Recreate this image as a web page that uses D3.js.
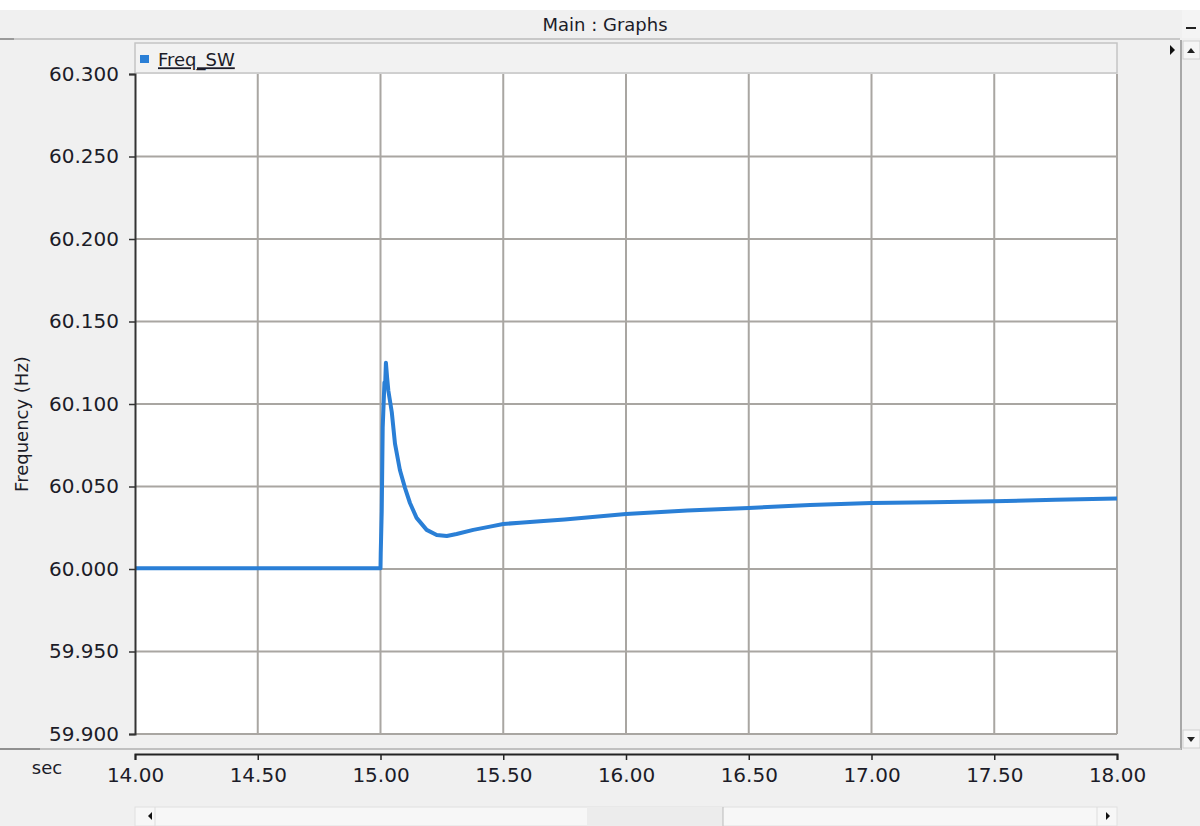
<!DOCTYPE html>
<html>
<head>
<meta charset="utf-8">
<script src="https://cdn.jsdelivr.net/npm/d3@7"></script>
<style>
  html, body { margin: 0; padding: 0; background: #ffffff; }
  svg { display: block; font-family: "DejaVu Sans", sans-serif; }
</style>
</head>
<body>
<div id="chart"></div>
<script>
// values
const seriesName = 'Freq_SW';
const timeSec = [14.00, 15.000, 15.001, 15.005, 15.009, 15.016, 15.019, 15.022, 15.027, 15.032,
    15.046, 15.059, 15.079, 15.100, 15.120, 15.147, 15.188, 15.229, 15.270, 15.310,
    15.378, 15.446, 15.500, 15.568, 15.650, 15.750, 16.00, 16.25, 16.50, 16.75,
    17.00, 17.25, 17.50, 17.75, 18.00];
const freqHz = [60.0005, 60.0005, 60.010, 60.035, 60.086, 60.113, 60.112, 60.125, 60.116, 60.108,
    60.095, 60.076, 60.060, 60.049, 60.040, 60.031, 60.0237, 60.0206, 60.020, 60.0212,
    60.0237, 60.0257, 60.0273, 60.028, 60.029, 60.030, 60.0333, 60.0355, 60.037, 60.0388,
    60.040, 60.0405, 60.041, 60.042, 60.0427];
const xTicks = [14.0, 14.5, 15.0, 15.5, 16.0, 16.5, 17.0, 17.5, 18.0];
const yTicks = [59.90, 59.95, 60.00, 60.05, 60.10, 60.15, 60.20, 60.25, 60.30];

const W = 1200, H = 826;
const plot = { left: 135, right: 1117, top: 74, bottom: 734 };
const panelBg = '#f0f0f0';
const gridColor = '#a9a6a2';
const lineColor = '#2a7fd6';
const textColor = '#1c1c28';

const svg = d3.select('#chart').append('svg')
    .attr('width', W)
    .attr('height', H)
    .attr('viewBox', `0 0 ${W} ${H}`);

// window chrome
svg.append('rect').attr('x', 0).attr('y', 10).attr('width', W).attr('height', H - 10).attr('fill', panelBg);
svg.append('line').attr('x1', 0).attr('x2', 1180).attr('y1', 39).attr('y2', 39)
    .attr('stroke', '#c8c8c8').attr('stroke-width', 2);
svg.append('line').attr('x1', 0).attr('x2', 14).attr('y1', 39).attr('y2', 39)
    .attr('stroke', '#9a9a9a').attr('stroke-width', 2);
svg.append('text')
    .attr('x', 605).attr('y', 25).attr('dy', '0.35em')
    .attr('text-anchor', 'middle')
    .attr('font-size', 18).attr('fill', textColor)
    .text('Main : Graphs');
// minimize box
svg.append('rect').attr('x', 1182).attr('y', 10).attr('width', 18).attr('height', 28).attr('fill', '#f4f4f4');
svg.append('line').attr('x1', 1186).attr('x2', 1196).attr('y1', 28).attr('y2', 28)
    .attr('stroke', '#222').attr('stroke-width', 2);

// right side scrollbar
svg.append('line').attr('x1', 1181).attr('x2', 1181).attr('y1', 40).attr('y2', 750)
    .attr('stroke', '#a8a8a8').attr('stroke-width', 2);
svg.append('rect').attr('x', 1183).attr('y', 41).attr('width', 17).attr('height', 18)
    .attr('fill', '#f6f6f6').attr('stroke', '#d0d0d0');
svg.append('path').attr('d', 'M1187,53 L1195,53 L1191,48 Z').attr('fill', '#222');
svg.append('rect').attr('x', 1183).attr('y', 730).attr('width', 17).attr('height', 18)
    .attr('fill', '#f6f6f6').attr('stroke', '#d0d0d0');
svg.append('path').attr('d', 'M1187,737 L1195,737 L1191,742 Z').attr('fill', '#222');
svg.append('path').attr('d', 'M1170,45 L1175,50 L1170,55 Z').attr('fill', '#111');

// legend strip
svg.append('rect')
    .attr('x', plot.left).attr('y', 43)
    .attr('width', plot.right - plot.left).attr('height', 30)
    .attr('fill', '#f2f2f2').attr('stroke', '#c4c4c4').attr('stroke-width', 1.5);
svg.append('rect').attr('x', 140).attr('y', 55).attr('width', 9).attr('height', 8).attr('fill', lineColor);
svg.append('text')
    .attr('x', 158).attr('y', 60).attr('dy', '0.35em')
    .attr('font-size', 18).attr('fill', textColor)
    .attr('text-decoration', 'underline')
    .text(seriesName);

// scales
const x = d3.scaleLinear().domain([14, 18]).range([plot.left, plot.right]);
const y = d3.scaleLinear().domain([59.9, 60.3]).range([plot.bottom, plot.top]);

// plot area
svg.append('rect')
    .attr('x', plot.left).attr('y', plot.top)
    .attr('width', plot.right - plot.left).attr('height', plot.bottom - plot.top)
    .attr('fill', '#ffffff');

const grid = svg.append('g').attr('stroke', gridColor).attr('stroke-width', 2);
grid.selectAll('.vgrid')
    .data(xTicks.slice(1))
    .enter()
    .append('line')
    .attr('x1', d => x(d)).attr('x2', d => x(d))
    .attr('y1', plot.top).attr('y2', plot.bottom);
grid.selectAll('.hgrid')
    .data(yTicks.slice(0, -1))
    .enter()
    .append('line')
    .attr('x1', plot.left).attr('x2', plot.right)
    .attr('y1', d => y(d)).attr('y2', d => y(d));

// series
const pts = timeSec.map((t, i) => ({ t: t, f: freqHz[i] }));
const line = d3.line()
    .x(d => x(d.t))
    .y(d => y(d.f));
svg.append('path')
    .datum(pts)
    .attr('d', line)
    .attr('fill', 'none')
    .attr('stroke', lineColor)
    .attr('stroke-width', 4)
    .attr('stroke-linejoin', 'round');

// y axis
const yAxis = d3.axisLeft(y)
    .tickValues(yTicks)
    .tickFormat(d3.format('.3f'))
    .tickSize(6)
    .tickPadding(10);
const gy = svg.append('g')
    .attr('transform', `translate(${plot.left},0)`)
    .call(yAxis);
gy.select('.domain').attr('stroke', '#333').attr('stroke-width', 2);
gy.selectAll('.tick line').attr('stroke', '#333').attr('stroke-width', 1.5);
gy.selectAll('.tick text')
    .attr('font-size', 20).attr('font-family', '"DejaVu Sans", sans-serif')
    .attr('fill', textColor);

svg.append('text')
    .attr('transform', 'translate(22,424) rotate(-90)')
    .attr('text-anchor', 'middle')
    .attr('dy', '0.35em')
    .attr('font-size', 18).attr('fill', textColor)
    .text('Frequency (Hz)');

// bottom separator and time axis
svg.append('line').attr('x1', 0).attr('x2', 1181).attr('y1', 749).attr('y2', 749)
    .attr('stroke', '#c0c0c0').attr('stroke-width', 2);
svg.append('line').attr('x1', 0).attr('x2', 40).attr('y1', 749).attr('y2', 749)
    .attr('stroke', '#909090').attr('stroke-width', 2);

const xAxis = d3.axisBottom(x)
    .tickValues(xTicks)
    .tickFormat(d3.format('.2f'))
    .tickSize(6)
    .tickPadding(8);
const gx = svg.append('g')
    .attr('transform', 'translate(0,754)')
    .call(xAxis);
gx.select('.domain').attr('stroke', '#222').attr('stroke-width', 2);
gx.selectAll('.tick line').attr('stroke', '#222').attr('stroke-width', 1.5);
gx.selectAll('.tick text')
    .attr('font-size', 20).attr('font-family', '"DejaVu Sans", sans-serif')
    .attr('fill', textColor);

svg.append('text')
    .attr('x', 47).attr('y', 768).attr('dy', '0.35em')
    .attr('text-anchor', 'middle')
    .attr('font-size', 18).attr('fill', textColor)
    .text('sec');

// bottom scrollbar
svg.append('rect').attr('x', 135).attr('y', 807).attr('width', 982).attr('height', 19)
    .attr('fill', '#f7f7f7').attr('stroke', '#e0e0e0');
svg.append('rect').attr('x', 587).attr('y', 807).attr('width', 136).attr('height', 19)
    .attr('fill', '#ececec');
svg.append('line').attr('x1', 723).attr('x2', 723).attr('y1', 807).attr('y2', 826)
    .attr('stroke', '#bbb');
svg.append('line').attr('x1', 155).attr('x2', 155).attr('y1', 807).attr('y2', 826)
    .attr('stroke', '#ddd');
svg.append('line').attr('x1', 1097).attr('x2', 1097).attr('y1', 807).attr('y2', 826)
    .attr('stroke', '#ddd');
svg.append('path').attr('d', 'M148,816 L152,812 L152,820 Z').attr('fill', '#111');
svg.append('path').attr('d', 'M1106,812 L1110,816 L1106,820 Z').attr('fill', '#111');
</script>
</body>
</html>
